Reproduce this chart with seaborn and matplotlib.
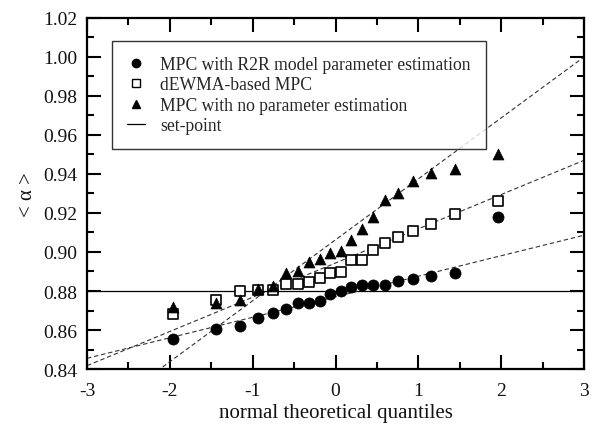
import numpy as np
import pandas as pd
import matplotlib
matplotlib.use("Agg")
import matplotlib.pyplot as plt
from matplotlib.lines import Line2D
from matplotlib.ticker import MultipleLocator, FormatStrFormatter
import seaborn as sns

# Normal theoretical quantiles (20 runs)
quantiles = [-1.96, -1.44, -1.15, -0.935, -0.755, -0.598, -0.454, -0.319, -0.189, -0.063,
             0.063, 0.189, 0.319, 0.454, 0.598, 0.755, 0.935, 1.15, 1.44, 1.96]

# Sorted <alpha> per control strategy
alpha_r2r = [0.8555, 0.8605, 0.8622, 0.8660, 0.8685, 0.8710, 0.8737, 0.8737, 0.8748, 0.8785,
             0.8798, 0.8822, 0.8832, 0.8832, 0.8832, 0.8849, 0.8862, 0.8879, 0.8891, 0.9177]
alpha_dewma = [0.8682, 0.8753, 0.8800, 0.8805, 0.8805, 0.8838, 0.8838, 0.8845, 0.8865, 0.8890,
               0.8897, 0.8958, 0.8958, 0.9008, 0.9045, 0.9076, 0.9106, 0.9145, 0.9195, 0.9264]
alpha_noest = [0.8716, 0.8740, 0.8753, 0.8810, 0.8828, 0.8892, 0.8900, 0.8950, 0.8965, 0.8993,
               0.9005, 0.9060, 0.9120, 0.9178, 0.9266, 0.9300, 0.9366, 0.9405, 0.9427, 0.9503]

series_names = ["MPC with R2R model parameter estimation",
                "dEWMA-based MPC",
                "MPC with no parameter estimation"]

# Reference (Q-Q) lines: intercept and slope for each strategy
line_intercept = [0.87705, 0.89435, 0.90625]
line_slope = [0.010517, 0.01755, 0.03125]

set_point = 0.88

sns.set_style("ticks")
plt.rcParams["font.family"] = ["Liberation Serif", "DejaVu Serif"]
plt.rcParams["axes.unicode_minus"] = False

fig = plt.figure(figsize=(5.92, 4.31), dpi=100)
ax = fig.add_axes([0.147, 0.1415, 0.8395, 0.8145])

# Dashed reference lines across the full x-range
xr = np.array([-3.0, 3.0])
for b, m in zip(line_intercept, line_slope):
    ref = pd.DataFrame({"x": xr, "y": b + m * xr})
    sns.lineplot(data=ref, x="x", y="y", ax=ax, color="#333333", lw=0.8,
                 linestyle=(0, (4, 2.5)), zorder=2)

# Set-point line
sp = pd.DataFrame({"x": xr, "y": [set_point, set_point]})
sns.lineplot(data=sp, x="x", y="y", ax=ax, color="black", lw=0.9, zorder=1)

df = pd.DataFrame({
    "q": quantiles * 3,
    "alpha": alpha_r2r + alpha_dewma + alpha_noest,
    "strategy": [series_names[0]] * 20 + [series_names[1]] * 20 + [series_names[2]] * 20,
})

sns.scatterplot(data=df[df.strategy == series_names[0]], x="q", y="alpha", ax=ax,
                marker="o", s=64, color="black", edgecolor="black", linewidth=0.5, zorder=4)
sns.scatterplot(data=df[df.strategy == series_names[1]], x="q", y="alpha", ax=ax,
                marker="s", s=42, facecolor="white", edgecolor="black", linewidth=1.2, zorder=3)
sns.scatterplot(data=df[df.strategy == series_names[2]], x="q", y="alpha", ax=ax,
                marker="^", s=62, color="black", edgecolor="black", linewidth=0.5, zorder=3)

ax.set_xlim(-3, 3)
ax.set_ylim(0.84, 1.02)
ax.xaxis.set_major_locator(MultipleLocator(1))
ax.xaxis.set_minor_locator(MultipleLocator(0.5))
ax.yaxis.set_major_locator(MultipleLocator(0.02))
ax.yaxis.set_minor_locator(MultipleLocator(0.01))
ax.yaxis.set_major_formatter(FormatStrFormatter("%.2f"))
ax.xaxis.set_major_formatter(FormatStrFormatter("%d"))

ax.tick_params(which="both", direction="in", top=True, right=True, color="black",
               labelsize=14, labelcolor="#111111")
ax.tick_params(axis="x", pad=9)
ax.tick_params(axis="y", pad=7)
ax.tick_params(which="major", length=10, width=1.5)
ax.tick_params(which="minor", length=5, width=1.5)
for s in ax.spines.values():
    s.set_linewidth(1.6)
    s.set_color("black")

ax.set_xlabel("normal theoretical quantiles", fontsize=15, labelpad=3, color="#111111")
ax.set_ylabel("< α >", fontsize=15, labelpad=4, color="#111111")

handles = [
    Line2D([], [], marker="o", ls="none", color="black", markersize=6),
    Line2D([], [], marker="s", ls="none", markerfacecolor="white", markeredgecolor="black",
           markeredgewidth=1.0, markersize=5.5),
    Line2D([], [], marker="^", ls="none", color="black", markersize=6),
    Line2D([], [], color="black", lw=0.9),
]
leg = ax.legend(handles, series_names + ["set-point"], loc="upper left",
                bbox_to_anchor=(0.05, 0.935), borderaxespad=0, fontsize=12.7,
                frameon=True, fancybox=False, edgecolor="black", handlelength=1.0,
                handletextpad=0.9, labelspacing=0.2, borderpad=0.85)
leg.get_frame().set_linewidth(1.0)

fig.savefig("out.png", dpi=100)
